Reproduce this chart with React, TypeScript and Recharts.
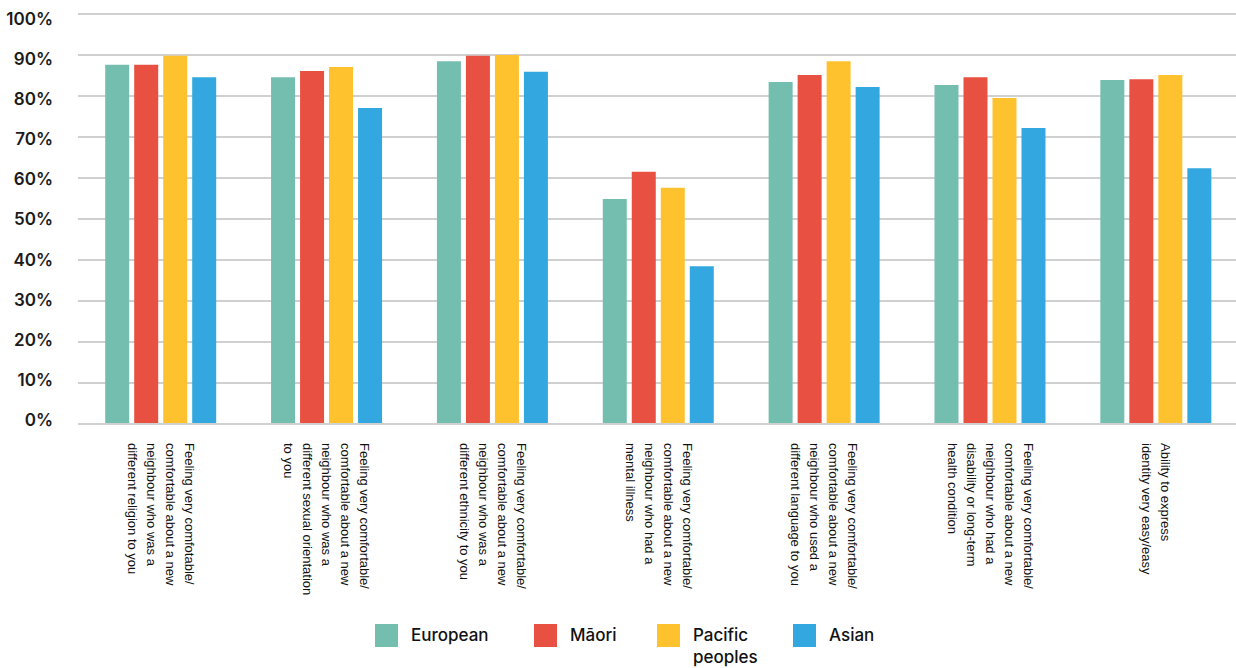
import React from 'react';
import { BarChart, Bar, XAxis, YAxis, CartesianGrid, Legend } from 'recharts';

// one category per bar group, line breaks as in the original labels
const categories = [
  'Feeling very comfotable/\ncomfortable about a new\nneighbour who was a\ndifferent religion to you',
  'Feeling very comfortable/\ncomfortable about a new\nneighbour who was a\ndifferent sexual orientation\nto you',
  'Feeling very comfortable/\ncomfortable about a new\nneighbour who was a\ndifferent ethnicity to you',
  'Feeling very comfortable/\ncomfortable about a new\nneighbour who had a\nmental illness',
  'Feeling very comfortable/\ncomfortable about a new\nneighbour who used a\ndifferent language to you',
  'Feeling very comfortable/\ncomfortable about a new\nneighbour who had a\ndisability or long-term\nhealth condition',
  'Ability to express\nidentity very easy/easy',
];

const european = [87.6, 84.6, 88.5, 54.9, 83.4, 82.7, 83.9];
const maori = [87.6, 86.1, 89.8, 61.5, 85.1, 84.6, 84.1];
const pacific = [89.8, 87.1, 90.0, 57.6, 88.5, 79.5, 85.1];
const asian = [84.6, 77.1, 85.9, 38.5, 82.2, 72.2, 62.4];

const yTicks = [0, 10, 20, 30, 40, 50, 60, 70, 80, 90, 100];

const series = [
  { key: 'european', name: 'European', color: '#74BEAF' },
  { key: 'maori', name: 'Māori', color: '#E85142' },
  { key: 'pacific', name: 'Pacific peoples', color: '#FEC22F' },
  { key: 'asian', name: 'Asian', color: '#33A8E0' },
];

// legend item widths (square + label + gap)
const legendWidths = [159, 123, 136, 100];

const data = categories.map((c, i) => ({
  category: c,
  european: european[i],
  maori: maori[i],
  pacific: pacific[i],
  asian: asian[i],
}));

const XTick = (props: any) => {
  const { x, y, payload } = props;
  const lines = String(payload.value).split('\n');
  const n = lines.length;
  return (
    <g transform={`translate(${x},${y})`}>
      <text
        transform="rotate(90)"
        fontFamily="'Liberation Sans', Arial, sans-serif"
        fontSize={13}
        fill="#111"
        textAnchor="start"
      >
        {lines.map((l, i) => (
          <tspan key={i} x={19} y={(i - (n - 1) / 2) * 19 + 4.5}>
            {l}
          </tspan>
        ))}
      </text>
    </g>
  );
};

const YTick = (props: any) => {
  const { x, y, payload } = props;
  // labels sit a touch tighter than the gridlines in the original
  const dy = 5 - (y - 14) * 0.022;
  return (
    <text
      x={x}
      y={y + dy}
      textAnchor="end"
      dominantBaseline="central"
      fontFamily="Inter, sans-serif"
      fontWeight={600}
      fontSize={17}
      fill="#1a1a1a"
    >
      {payload.value}%
    </text>
  );
};

const LegendBox = () => (
  <div
    style={{
      height: 54,
      display: 'flex',
      alignItems: 'flex-start',
      paddingLeft: 375,
      paddingTop: 10,
      boxSizing: 'border-box',
      fontFamily: 'Inter, sans-serif',
      fontWeight: 500,
      fontSize: 17,
      color: '#111',
    }}
  >
    {series.map((s, i) => (
      <div key={s.key} style={{ display: 'flex', alignItems: 'flex-start', width: legendWidths[i], flex: 'none' }}>
        <div style={{ width: 23, height: 23, background: s.color, marginRight: 13, flex: 'none' }} />
        <span style={{ display: 'inline-block', width: 'min-content', lineHeight: '22px', whiteSpace: 'normal' }}>
          {s.name}
        </span>
      </div>
    ))}
  </div>
);

export default function App() {
  return (
    <div style={{ position: 'absolute', left: 0, top: 0, background: '#fff' }}>
      <BarChart
        width={1239}
        height={668}
        data={data}
        margin={{ top: 14, right: 0, left: 0, bottom: 0 }}
        barCategoryGap="16.4%"
        barGap={5}
      >
        <CartesianGrid vertical={false} stroke="#d0d0d0" strokeWidth={2} />
        <XAxis
          dataKey="category"
          interval={0}
          height={190}
          tickLine={false}
          tickSize={0}
          tickMargin={0}
          axisLine={{ stroke: '#d0d0d0', strokeWidth: 2 }}
          tick={<XTick />}
        />
        <YAxis
          domain={[0, 100]}
          ticks={yTicks}
          width={78}
          axisLine={false}
          tickLine={false}
          tickSize={0}
          tickMargin={25}
          tick={<YTick />}
        />
        <Legend verticalAlign="bottom" content={<LegendBox />} wrapperStyle={{ left: 0, width: 1236 }} />
        {series.map((s) => (
          <Bar key={s.key} dataKey={s.key} name={s.name} fill={s.color} isAnimationActive={false} />
        ))}
      </BarChart>
    </div>
  );
}
